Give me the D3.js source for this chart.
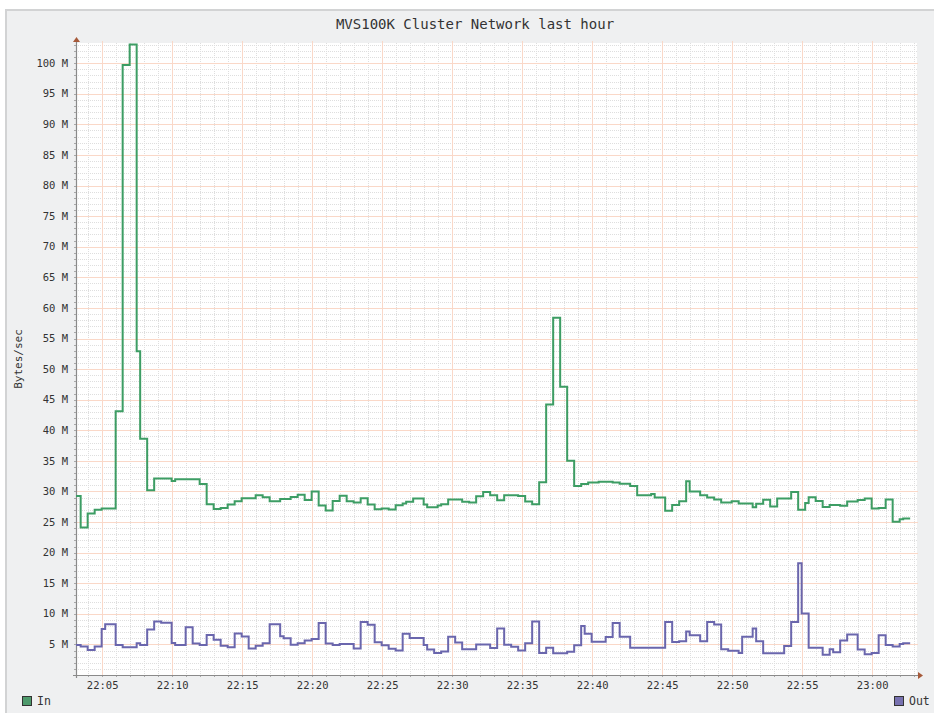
<!DOCTYPE html>
<html>
<head>
<meta charset="utf-8">
<script src="https://cdn.jsdelivr.net/npm/d3@7"></script>
<style>
  html, body { margin: 0; padding: 0; background: #fff; }
  svg { display: block; }
  text { font-family: "DejaVu Sans Mono", monospace; fill: #333; }
</style>
</head>
<body>
<div id="graph"></div>
<script>
// values in M bytes/sec, each value holds until the next time
const title = "MVS100K Cluster Network last hour";
const yLabel = "Bytes/sec";
const startTime = "22:03:10";
const stopTime = "23:03:10";
const lastSample = "23:02:45";
const yTicks = [5, 10, 15, 20, 25, 30, 35, 40, 45, 50, 55, 60, 65, 70, 75, 80, 85, 90, 95, 100];
const yMax = 103.3;

const inTimes = ["22:03:10", "22:03:30", "22:04:00", "22:04:30", "22:05:00", "22:06:00", "22:06:30", "22:07:00",
  "22:07:30", "22:07:45", "22:08:15", "22:08:45", "22:10:00", "22:10:15", "22:12:00", "22:12:30", "22:13:00",
  "22:13:30", "22:14:00", "22:14:30", "22:15:00", "22:16:00", "22:16:30", "22:17:00", "22:17:45", "22:18:30",
  "22:19:00", "22:19:30", "22:20:00", "22:20:30", "22:21:00", "22:21:30", "22:22:00", "22:22:30", "22:23:00",
  "22:23:30", "22:24:00", "22:24:30", "22:25:00", "22:25:30", "22:26:00", "22:26:30", "22:26:45", "22:27:15",
  "22:28:00", "22:28:15", "22:29:00", "22:29:15", "22:29:45", "22:30:45", "22:31:15", "22:31:45", "22:32:15",
  "22:32:45", "22:33:15", "22:33:45", "22:34:45", "22:35:15", "22:35:45", "22:36:15", "22:36:45", "22:37:15",
  "22:37:45", "22:38:15", "22:38:45", "22:39:15", "22:39:45", "22:40:30", "22:41:30", "22:42:00", "22:42:45",
  "22:43:15", "22:44:15", "22:44:30", "22:45:15", "22:45:45", "22:46:15", "22:46:45", "22:47:00", "22:47:45",
  "22:48:15", "22:48:45", "22:49:15", "22:50:00", "22:50:30", "22:51:30", "22:51:45", "22:52:15", "22:52:45",
  "22:53:15", "22:54:15", "22:54:45", "22:55:15", "22:55:30", "22:56:00", "22:56:30", "22:57:00", "22:57:45",
  "22:58:15", "22:59:00", "22:59:30", "23:00:00", "23:00:30", "23:01:00", "23:01:30", "23:02:00", "23:02:15"];
const inValues = [29.25, 24.1, 26.4, 27.0, 27.2, 43.1, 99.7, 103.05,
  52.9, 38.6, 30.2, 32.1, 31.7, 32.0, 31.2, 27.9, 27.15,
  27.3, 27.85, 28.4, 28.9, 29.4, 29.05, 28.4, 28.75, 29.1,
  29.45, 28.6, 30.0, 27.7, 26.9, 28.45, 29.3, 28.4, 28.2,
  28.9, 27.85, 27.1, 27.2, 27.05, 27.75, 28.05, 28.3, 28.85,
  27.85, 27.4, 27.7, 27.9, 28.7, 28.3, 28.2, 29.2, 29.9,
  29.4, 28.55, 29.4, 29.25, 28.35, 27.9, 31.5, 44.2, 58.4,
  47.1, 35.0, 30.9, 31.2, 31.45, 31.6, 31.45, 31.25, 30.9,
  29.4, 29.6, 29.0, 26.85, 27.8, 28.4, 31.65, 30.0, 29.4,
  29.0, 28.7, 28.2, 28.4, 28.05, 27.4, 28.0, 28.65, 27.55,
  28.85, 29.9, 27.0, 28.1, 29.05, 28.45, 27.45, 27.8, 27.65,
  28.35, 28.6, 28.85, 27.2, 27.3, 28.7, 25.05, 25.45, 25.6];

const outTimes = ["22:03:10", "22:03:30", "22:04:00", "22:04:30", "22:05:00", "22:05:15", "22:06:00", "22:06:30",
  "22:07:30", "22:07:45", "22:08:15", "22:08:45", "22:09:15", "22:10:00", "22:10:15", "22:11:00", "22:11:30",
  "22:12:00", "22:12:30", "22:13:00", "22:13:30", "22:14:00", "22:14:30", "22:15:00", "22:15:30", "22:16:00",
  "22:16:30", "22:17:00", "22:17:45", "22:18:00", "22:18:30", "22:19:00", "22:19:30", "22:20:00", "22:20:30",
  "22:21:00", "22:21:30", "22:22:00", "22:23:00", "22:23:30", "22:24:00", "22:24:30", "22:25:00", "22:25:30",
  "22:26:00", "22:26:30", "22:27:00", "22:28:00", "22:28:15", "22:28:45", "22:29:15", "22:29:45", "22:30:15",
  "22:30:45", "22:31:45", "22:32:45", "22:33:15", "22:33:45", "22:34:15", "22:34:45", "22:35:15", "22:35:45",
  "22:36:15", "22:36:45", "22:37:15", "22:38:15", "22:38:45", "22:39:15", "22:39:30", "22:40:00", "22:41:00",
  "22:41:30", "22:42:00", "22:42:45", "22:45:15", "22:45:45", "22:46:15", "22:46:45", "22:47:00", "22:47:45",
  "22:48:15", "22:48:45", "22:49:15", "22:49:45", "22:50:30", "22:50:45", "22:51:30", "22:51:45", "22:52:15",
  "22:53:45", "22:54:15", "22:54:45", "22:55:00", "22:55:30", "22:56:30", "22:57:00", "22:57:15", "22:57:45",
  "22:58:15", "22:59:00", "22:59:30", "23:00:00", "23:00:30", "23:01:00", "23:01:30", "23:02:00", "23:02:15"];
const outValues = [4.9, 4.65, 4.1, 4.65, 7.5, 8.3, 4.9, 4.55,
  5.2, 4.9, 7.45, 8.75, 8.55, 5.25, 4.9, 7.8, 5.15,
  4.9, 6.55, 5.75, 4.8, 4.55, 6.8, 6.3, 4.35, 4.8,
  5.2, 8.3, 6.35, 6.0, 4.95, 5.2, 5.65, 5.9, 8.5,
  5.15, 4.9, 5.05, 4.35, 8.65, 8.2, 5.35, 4.85, 4.3,
  4.0, 6.75, 6.05, 4.9, 4.15, 3.6, 3.85, 6.25, 5.3,
  4.2, 5.0, 4.4, 7.6, 4.95, 4.6, 4.0, 5.2, 8.75,
  3.6, 4.45, 3.55, 3.8, 4.85, 8.0, 6.75, 5.45, 6.2,
  8.5, 6.25, 4.45, 8.65, 5.4, 5.5, 7.1, 6.5, 5.5,
  8.65, 8.25, 4.2, 3.95, 3.6, 6.25, 7.6, 5.5, 3.55,
  4.75, 8.65, 18.25, 10.05, 4.45, 3.3, 4.2, 3.7, 5.65,
  6.6, 4.15, 3.4, 3.6, 6.5, 4.9, 4.65, 5.05, 5.2];

const series = [
  { name: "In", times: inTimes, values: inValues, color: "#3d9d64", swatch: "#4e9a6c" },
  { name: "Out", times: outTimes, values: outValues, color: "#6a66ad", swatch: "#7771b0" }
];

const width = 934, height = 713;
const plot = { left: 76, right: 916, top: 43, bottom: 675 };
const parseTime = d3.timeParse("%H:%M:%S");

const svg = d3.select("#graph").append("svg")
  .attr("width", width).attr("height", height);

// grey panel
svg.append("rect")
  .attr("x", 6).attr("y", 10).attr("width", width).attr("height", height)
  .attr("fill", "#eff0f1").attr("stroke", "#d2d3d4").attr("stroke-width", 2);

svg.append("rect")
  .attr("x", plot.left).attr("y", plot.top)
  .attr("width", plot.right - plot.left + 1).attr("height", plot.bottom - plot.top)
  .attr("fill", "#fff");

const x = d3.scaleTime()
  .domain([parseTime(startTime), parseTime(stopTime)])
  .range([plot.left, plot.right]);
const y = d3.scaleLinear().domain([0, yMax]).range([plot.bottom, plot.top]);

const grid = svg.append("g");
// minor grid, every 1 M and every minute
grid.selectAll(".hmin").data(d3.range(1, Math.floor(yMax) + 1).filter(v => v % 5 !== 0))
  .join("line")
  .attr("x1", plot.left).attr("x2", plot.right + 2)
  .attr("y1", d => Math.round(y(d)) + 0.5).attr("y2", d => Math.round(y(d)) + 0.5)
  .attr("stroke", "#dedede").attr("stroke-dasharray", "1,1");
const minutes = x.ticks(d3.timeMinute.every(1));
grid.selectAll(".vmin").data(minutes.filter(d => d.getMinutes() % 5 !== 0))
  .join("line")
  .attr("x1", d => Math.round(x(d)) + 0.5).attr("x2", d => Math.round(x(d)) + 0.5)
  .attr("y1", plot.top).attr("y2", plot.bottom)
  .attr("stroke", "#dedede").attr("stroke-dasharray", "1,1");
// major grid
grid.selectAll(".hmaj").data(yTicks)
  .join("line")
  .attr("x1", plot.left - 2).attr("x2", plot.right + 2)
  .attr("y1", d => Math.round(y(d)) + 0.5).attr("y2", d => Math.round(y(d)) + 0.5)
  .attr("stroke", "#fad8c8");
const fiveMin = minutes.filter(d => d.getMinutes() % 5 === 0);
grid.selectAll(".vmaj").data(fiveMin)
  .join("line")
  .attr("x1", d => Math.round(x(d)) + 0.5).attr("x2", d => Math.round(x(d)) + 0.5)
  .attr("y1", plot.top - 2).attr("y2", plot.bottom + 2)
  .attr("stroke", "#fad8c8");

// tick marks
grid.selectAll(".xt").data(minutes)
  .join("line")
  .attr("x1", d => Math.round(x(d)) + 0.5).attr("x2", d => Math.round(x(d)) + 0.5)
  .attr("y1", plot.bottom).attr("y2", plot.bottom + 2)
  .attr("stroke", "#aaa");
grid.selectAll(".yt").data(d3.range(1, Math.floor(yMax) + 1))
  .join("line")
  .attr("x1", plot.left - 2).attr("x2", plot.left)
  .attr("y1", d => Math.round(y(d)) + 0.5).attr("y2", d => Math.round(y(d)) + 0.5)
  .attr("stroke", "#aaa");

// axes
svg.append("line")
  .attr("x1", plot.left + 0.5).attr("x2", plot.left + 0.5)
  .attr("y1", plot.bottom + 3).attr("y2", plot.top - 3)
  .attr("stroke", "#8a8a8a").attr("stroke-width", 1.2);
svg.append("line")
  .attr("x1", plot.left - 3).attr("x2", plot.right + 3)
  .attr("y1", plot.bottom + 0.5).attr("y2", plot.bottom + 0.5)
  .attr("stroke", "#8a8a8a").attr("stroke-width", 1.2);
svg.append("path")
  .attr("d", `M${plot.left - 3},${plot.top - 1}L${plot.left + 0.5},${plot.top - 6}L${plot.left + 4},${plot.top - 1}Z`)
  .attr("fill", "#a65a3a");
svg.append("path")
  .attr("d", `M${plot.right + 2},${plot.bottom - 3}L${plot.right + 7},${plot.bottom + 0.5}L${plot.right + 2},${plot.bottom + 4}Z`)
  .attr("fill", "#a65a3a");

// labels
svg.append("g").selectAll("text").data(yTicks)
  .join("text")
  .attr("x", 68).attr("y", d => y(d))
  .attr("dy", "0.35em").attr("text-anchor", "end")
  .style("font-size", "10.5px")
  .text(d => `${d} M`);
svg.append("g").selectAll("text").data(fiveMin)
  .join("text")
  .attr("x", d => x(d) + 1).attr("y", 685)
  .attr("dy", "0.35em").attr("text-anchor", "middle")
  .style("font-size", "10.5px")
  .text(d3.timeFormat("%H:%M"));

svg.append("text")
  .attr("x", 475).attr("y", 24).attr("dy", "0.35em")
  .attr("text-anchor", "middle").style("font-size", "14px")
  .text(title);
svg.append("text")
  .attr("transform", `translate(18,${(plot.top + plot.bottom) / 2}) rotate(-90)`)
  .attr("dy", "0.35em").attr("text-anchor", "middle").style("font-size", "11px")
  .text(yLabel);

// step lines
const line = d3.line()
  .x(d => x(d.t)).y(d => y(d.v))
  .curve(d3.curveStepAfter);
series.forEach(s => {
  const pts = s.times.map((t, i) => ({ t: parseTime(t), v: s.values[i] }));
  pts.push({ t: parseTime(lastSample), v: s.values[s.values.length - 1] });
  svg.append("path")
    .datum(pts)
    .attr("d", line)
    .attr("fill", "none")
    .attr("stroke", s.color)
    .attr("stroke-width", 2);
});

// legend
const legend = [
  { s: series[0], x: 22 },
  { s: series[1], x: 894 }
];
legend.forEach(l => {
  svg.append("rect")
    .attr("x", l.x + 0.5).attr("y", 696.5).attr("width", 9).attr("height", 9)
    .attr("fill", l.s.swatch).attr("stroke", "#333");
  svg.append("text")
    .attr("x", l.x + 15).attr("y", 701).attr("dy", "0.35em")
    .style("font-size", "11.5px")
    .text(l.s.name);
});
</script>
</body>
</html>
